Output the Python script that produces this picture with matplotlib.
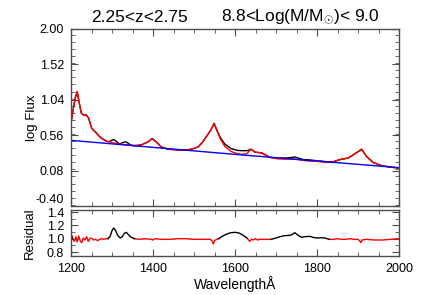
import numpy as np
import matplotlib
matplotlib.use('Agg')
import matplotlib.pyplot as plt
from matplotlib.ticker import MultipleLocator

plt.rcParams['font.family'] = ['Liberation Sans', 'DejaVu Sans']
plt.rcParams['mathtext.fontset'] = 'custom'
plt.rcParams['mathtext.rm'] = 'Liberation Sans'
plt.rcParams['mathtext.it'] = 'Liberation Sans:italic'

# spectrum (log flux)
wave = [1200, 1205, 1210, 1215, 1220, 1225, 1231, 1237, 1243, 1250, 1256, 1262,
        1268, 1274, 1280, 1286, 1292, 1299, 1304, 1310, 1318, 1326, 1334, 1342,
        1350, 1360, 1372, 1380, 1388, 1398, 1408, 1420, 1437, 1460, 1484, 1500,
        1510, 1520, 1530, 1541, 1549, 1557, 1565, 1575, 1590, 1605, 1615, 1629,
        1639, 1649, 1665, 1675, 1685, 1702, 1720, 1734, 1746, 1766, 1780, 1799,
        1823, 1840, 1856, 1876, 1893, 1909, 1921, 1937, 1958, 1982, 2000]
model = [0.73, 0.90, 1.06, 1.15, 1.00, 0.86, 0.83, 0.835, 0.79, 0.66, 0.62, 0.59,
         0.55, 0.52, 0.50, 0.48, 0.47, 0.46, 0.455, 0.45, 0.44, 0.435, 0.43, 0.425,
         0.42, 0.42, 0.43, 0.45, 0.47, 0.515, 0.47, 0.40, 0.37, 0.36, 0.36, 0.38,
         0.40, 0.46, 0.54, 0.63, 0.72, 0.61, 0.50, 0.41, 0.34, 0.31, 0.30, 0.31,
         0.37, 0.33, 0.32, 0.29, 0.26, 0.24, 0.235, 0.235, 0.235, 0.22, 0.21, 0.205,
         0.19, 0.20, 0.23, 0.25, 0.31, 0.37, 0.27, 0.19, 0.146, 0.125, 0.115]
obs = [0.73, 0.90, 1.06, 1.15, 1.00, 0.86, 0.83, 0.835, 0.79, 0.66, 0.62, 0.59,
       0.55, 0.52, 0.50, 0.48, 0.47, 0.49, 0.50, 0.48, 0.44, 0.46, 0.47, 0.44,
       0.42, 0.42, 0.43, 0.45, 0.47, 0.515, 0.47, 0.40, 0.37, 0.36, 0.36, 0.38,
       0.40, 0.46, 0.54, 0.63, 0.72, 0.61, 0.52, 0.44, 0.38, 0.355, 0.35, 0.35,
       0.37, 0.33, 0.32, 0.29, 0.26, 0.25, 0.25, 0.255, 0.265, 0.23, 0.225, 0.215,
       0.20, 0.20, 0.23, 0.25, 0.31, 0.37, 0.27, 0.19, 0.146, 0.125, 0.115]

# continuum
cont_wave = [1200, 1400, 1600, 1800, 2000]
cont = [0.49, 0.395, 0.30, 0.21, 0.12]

# residual panel
res_wave = [1200, 1204, 1208, 1212, 1215, 1219, 1222, 1226, 1230, 1234, 1238, 1242,
            1246, 1250, 1255, 1260, 1265, 1270, 1275, 1280, 1285, 1290,
            1295, 1300, 1304, 1308, 1314, 1320, 1325, 1330, 1335, 1340, 1347, 1355,
            1365, 1380, 1395, 1400, 1405, 1420, 1440, 1460, 1480, 1500, 1520, 1540,
            1545, 1547, 1550, 1555, 1560,
            1570, 1580, 1590, 1600, 1610, 1620, 1629,
            1633, 1636, 1640, 1645, 1650, 1655, 1660, 1670, 1680, 1688,
            1700, 1710, 1720, 1734, 1740, 1746, 1752, 1762, 1770, 1783, 1790, 1799,
            1810, 1819, 1830,
            1840, 1850, 1860, 1870, 1880, 1890, 1900, 1905, 1907, 1910, 1920, 1940,
            1960, 1980, 2000]
resid = [1.07, 1.00, 0.96, 1.03, 0.95, 1.04, 0.97, 0.94, 1.01, 0.98, 1.03, 0.96,
         1.00, 1.01, 0.98, 0.99, 0.97, 0.99, 1.00, 0.99, 1.00, 1.00,
         1.03, 1.12, 1.16, 1.13, 1.05, 1.01, 1.03, 1.08, 1.095, 1.06, 1.02, 1.00,
         0.99, 1.00, 0.99, 0.98, 1.00, 0.99, 0.99, 1.00, 1.00, 0.99, 0.99, 0.99,
         0.96, 0.92, 0.97, 0.99, 1.00,
         1.04, 1.07, 1.09, 1.095, 1.085, 1.05, 1.01,
         0.98, 0.96, 0.99, 0.98, 1.00, 0.98, 0.99, 0.99, 0.99, 0.99,
         1.01, 1.03, 1.045, 1.05, 1.065, 1.09, 1.06, 1.02, 1.03, 1.035, 1.02, 1.01,
         1.015, 1.01, 0.99,
         0.99, 1.00, 0.99, 0.99, 1.00, 0.99, 0.99, 0.96, 0.94, 0.98, 0.99, 0.98,
         0.98, 0.99, 1.00]
# wavelength ranges drawn in black in the residual panel
black_ranges = [(1200, 1204), (1290, 1355), (1560, 1629), (1688, 1830)]

FRAME = '0.3'


def style_axes(ax):
    for s in ax.spines.values():
        s.set_color(FRAME)
        s.set_linewidth(1.0)
    ax.tick_params(which='both', direction='in', top=True, right=True,
                   color=FRAME, labelsize=9, pad=5)
    ax.tick_params(which='major', length=5)
    ax.tick_params(which='minor', length=3)
    ax.set_xlim(1200, 2000)
    ax.xaxis.set_major_locator(MultipleLocator(200))
    ax.xaxis.set_minor_locator(MultipleLocator(50))


def add_top(ax):
    ax.plot(wave, obs, color='black', lw=1.0)
    ax.plot(wave, model, color='red', lw=1.0)
    ax.plot(cont_wave, cont, color='blue', lw=1.0)
    style_axes(ax)
    ax.set_ylim(-0.40, 2.00)
    ax.set_yticks(np.arange(-0.40, 2.01, 0.48))
    ax.yaxis.set_major_formatter(plt.FormatStrFormatter('%.2f'))
    ax.yaxis.set_minor_locator(MultipleLocator(0.096))
    ax.tick_params(labelbottom=False)
    # bottom label sits a little above its tick, as in the original
    ax.yaxis.get_major_ticks()[0].label1.set_va('bottom')
    ax.set_ylabel('log Flux', fontsize=9.5)


def add_resid(ax):
    w = np.array(res_wave, dtype=float)
    r = np.array(resid)
    inside = np.zeros(len(w), dtype=bool)
    for lo, hi in black_ranges:
        inside |= (w >= lo) & (w <= hi)
    edges = [b for rg in black_ranges for b in rg]
    ax.plot(w, np.where(~inside | np.isin(w, edges), r, np.nan), color='red', lw=1.0)
    ax.plot(w, np.where(inside, r, np.nan), color='black', lw=1.0)
    style_axes(ax)
    ax.set_ylim(0.74, 1.43)
    ax.set_yticks([0.8, 1.0, 1.2, 1.4])
    ax.yaxis.set_major_formatter(plt.FormatStrFormatter('%.1f'))
    ax.yaxis.set_minor_locator(MultipleLocator(0.1))
    ax.set_ylabel('Residual', fontsize=9.5)
    ax.set_xlabel('Wavelength\u00c5', fontsize=10, labelpad=1)


def main():
    fig = plt.figure(figsize=(4.43, 2.95), dpi=100)
    ax1 = fig.add_axes([0.1603, 0.3017, 0.7404, 0.6000])
    ax2 = fig.add_axes([0.1603, 0.1322, 0.7404, 0.1559])
    add_top(ax1)
    add_resid(ax2)
    ax1.yaxis.set_label_coords(-0.10, 0.5)
    ax2.yaxis.set_label_coords(-0.106, 0.5)
    fig.text(139 / 443, 1 - 17 / 295, '2.25<z<2.75', fontsize=12.5,
             ha='center', va='center')
    fig.text(300 / 443, 1 - 17 / 295, r'8.8<Log(M/M$_{\odot}$)< 9.0', fontsize=12.5,
             ha='center', va='center')
    fig.savefig('out.png', dpi=100)


if __name__ == '__main__':
    main()
